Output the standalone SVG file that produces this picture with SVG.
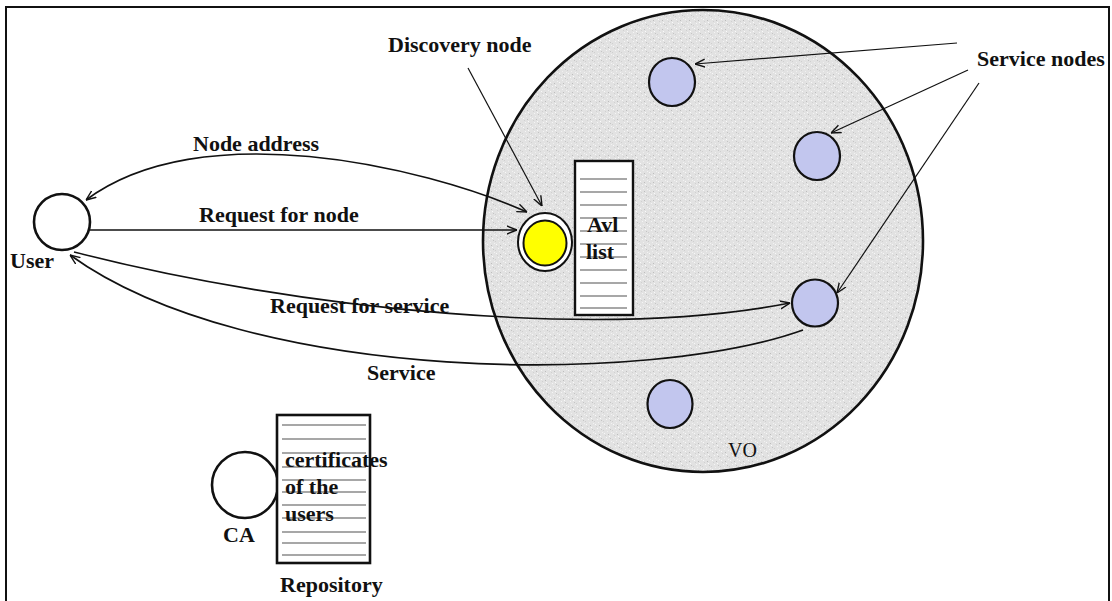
<svg xmlns="http://www.w3.org/2000/svg" width="1112" height="601" viewBox="0 0 1112 601">
<defs>
<style>
.lbl{font-family:"Liberation Serif","Times New Roman",serif;font-weight:bold;font-size:22px;fill:#111}
.reg{font-family:"Liberation Serif","Times New Roman",serif;font-size:20px;fill:#111}
.conn{fill:none;stroke:#111;stroke-width:1.6}
.ptr{fill:none;stroke:#111;stroke-width:1.2}
.blue{fill:#c2c6ee;stroke:#111;stroke-width:2.2}
.hl{stroke:#8a8a8a;stroke-width:1.3}
</style>
<pattern id="stip" width="9" height="9" patternUnits="userSpaceOnUse">
<rect width="9" height="9" fill="#e2e2e2"/>
<rect x="1" y="1" width="1" height="1" fill="#f8f8f8"/>
<rect x="5" y="2" width="1" height="1" fill="#bdbdbd"/>
<rect x="3" y="5" width="1" height="1" fill="#f5f5f5"/>
<rect x="7" y="6" width="1" height="1" fill="#c4c4c4"/>
<rect x="0" y="7" width="1" height="1" fill="#cfcfcf"/>
<rect x="6" y="4" width="1" height="1" fill="#fafafa"/>
<rect x="2" y="3" width="1" height="1" fill="#d0d0d0"/>
<rect x="8" y="0" width="1" height="1" fill="#f2f2f2"/>
<rect x="4" y="8" width="1" height="1" fill="#f0f0f0"/>
</pattern>
<marker id="arr" viewBox="0 0 10 10" refX="10" refY="5" markerWidth="10" markerHeight="10" markerUnits="userSpaceOnUse" orient="auto-start-reverse">
<path d="M0,1 L10,5 L0,9" fill="none" stroke="#111" stroke-width="1.4"/>
</marker>
</defs>
<rect width="1112" height="601" fill="#fff"/>
<g id="frame" fill="none" stroke="#111" stroke-width="2">
<path d="M6,601 L6,7 L1109,7 L1109,601"/>
</g>
<g id="vo">
<ellipse cx="703" cy="241" rx="220" ry="231" fill="url(#stip)" stroke="#111" stroke-width="2.6"/>
<text class="reg" x="728" y="457">VO</text>
</g>
<g id="avl-list">
<rect x="575" y="161" width="58" height="154" fill="#fff" stroke="#111" stroke-width="2.4"/>
<g class="hl">
<line x1="580" y1="179" x2="627" y2="179"/>
<line x1="580" y1="192" x2="627" y2="192"/>
<line x1="580" y1="205" x2="627" y2="205"/>
<line x1="580" y1="218" x2="627" y2="218"/>
<line x1="580" y1="231" x2="627" y2="231"/>
<line x1="580" y1="244" x2="627" y2="244"/>
<line x1="580" y1="257" x2="627" y2="257"/>
<line x1="580" y1="270" x2="627" y2="270"/>
<line x1="580" y1="283" x2="627" y2="283"/>
<line x1="580" y1="296" x2="627" y2="296"/>
<line x1="580" y1="308" x2="627" y2="308"/>
</g>
<text class="lbl" x="587" y="232">Avl</text>
<text class="lbl" x="586" y="259">list</text>
</g>
<g id="discovery-node">
<ellipse cx="545" cy="242" rx="27" ry="29" fill="#fff" stroke="#111" stroke-width="2"/>
<ellipse cx="545" cy="243" rx="21.5" ry="22.5" fill="#ffff00" stroke="#111" stroke-width="2"/>
</g>
<g id="service-node-1"><ellipse class="blue" cx="672" cy="82" rx="23" ry="24"/></g>
<g id="service-node-2"><ellipse class="blue" cx="817" cy="156" rx="23" ry="24"/></g>
<g id="service-node-3"><ellipse class="blue" cx="815" cy="303" rx="23" ry="23.5"/></g>
<g id="service-node-4"><ellipse class="blue" cx="670" cy="404" rx="22.5" ry="24"/></g>
<g id="user">
<circle cx="62" cy="222" r="28" fill="#fff" stroke="#111" stroke-width="2.6"/>
<text class="lbl" x="10" y="268">User</text>
</g>
<g id="ca">
<circle cx="245" cy="485" r="33" fill="#fff" stroke="#111" stroke-width="2.6"/>
<text class="lbl" x="223" y="542">CA</text>
</g>
<g id="repository">
<rect x="277" y="415" width="93" height="148" fill="#fff" stroke="#111" stroke-width="2.6"/>
<g class="hl">
<line x1="282" y1="425" x2="366" y2="425"/>
<line x1="282" y1="439" x2="366" y2="439"/>
<line x1="282" y1="453" x2="366" y2="453"/>
<line x1="282" y1="467" x2="366" y2="467"/>
<line x1="282" y1="480" x2="366" y2="480"/>
<line x1="282" y1="492" x2="366" y2="492"/>
<line x1="282" y1="505" x2="366" y2="505"/>
<line x1="282" y1="518" x2="366" y2="518"/>
<line x1="282" y1="532" x2="366" y2="532"/>
<line x1="282" y1="543" x2="366" y2="543"/>
<line x1="282" y1="555" x2="366" y2="555"/>
</g>
<text class="lbl" x="285" y="467">certificates</text>
<text class="lbl" x="285" y="494">of the</text>
<text class="lbl" x="285" y="521">users</text>
<text class="lbl" x="280" y="592">Repository</text>
</g>
<g id="connectors">
<path class="conn" d="M527,212 C420,165 200,115 86,200" marker-start="url(#arr)" marker-end="url(#arr)"/>
<path class="conn" d="M90,230 L517,230" marker-end="url(#arr)"/>
<path class="conn" d="M74,252 C300,310 600,340 790,303" marker-end="url(#arr)"/>
<path class="conn" d="M803,330 C650,385 250,385 70,255" marker-end="url(#arr)"/>
<path class="ptr" d="M468,68 L542,206" marker-end="url(#arr)"/>
<path class="ptr" d="M957,43 L695,64" marker-end="url(#arr)"/>
<path class="ptr" d="M968,70 L831,133" marker-end="url(#arr)"/>
<path class="ptr" d="M979,83 L837,293" marker-end="url(#arr)"/>
</g>
<g id="labels">
<text class="lbl" x="193" y="151">Node address</text>
<text class="lbl" x="199" y="222">Request for node</text>
<text class="lbl" x="270" y="313">Request for service</text>
<text class="lbl" x="367" y="380">Service</text>
<text class="lbl" x="388" y="52">Discovery node</text>
<text class="lbl" x="977" y="66">Service nodes</text>
</g>
</svg>
